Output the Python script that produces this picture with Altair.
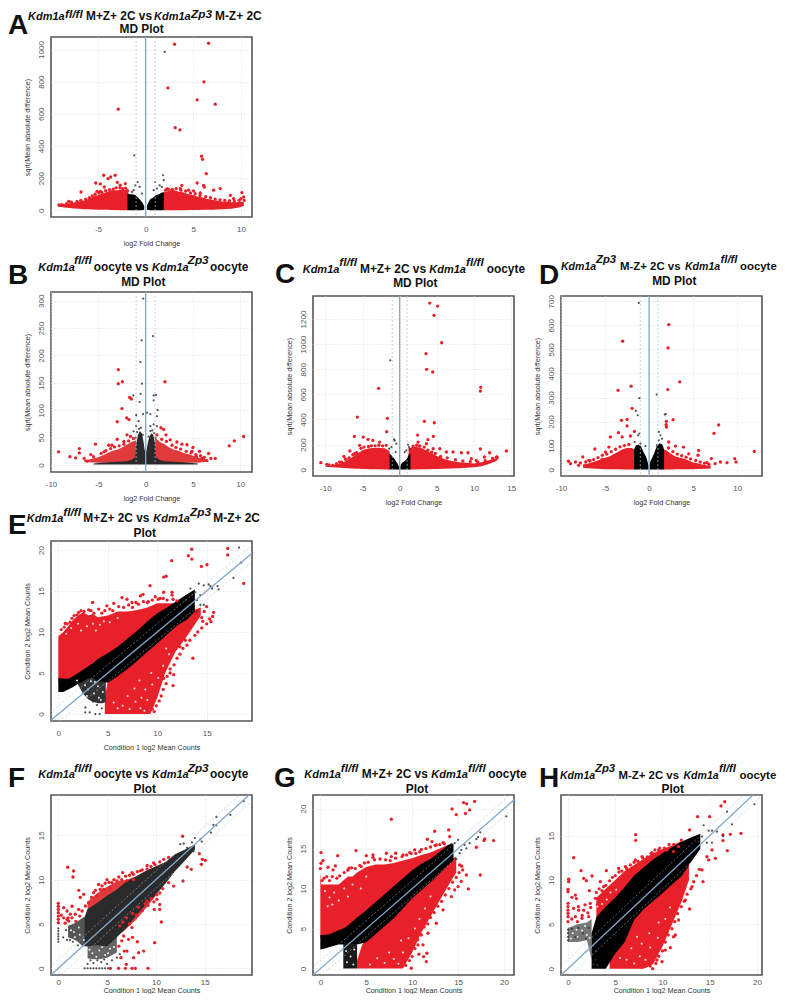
import altair as alt

FONT = "Liberation Sans"
RED = "#e8202a"
BLUE = "#7fa8cc"
LBLUE = "#9ec5e0"
ONE = alt.Data(values=[{"a": 1}])

# ---------- Panel A ----------
A_RED = [(3.04,1033),(6.6,1039),(6.12,799),(2.34,761),(5.4,687),(7.3,660),(-2.87,629),(3.1,514),(3.6,500),(5.87,336),(5.98,317),(6.36,228),(5.4,170),(-4.4,218),(-3.2,218),(-3.67,207),(-3.95,197),(-5.24,170),(-4.75,164),(-2.97,174),(-6.78,114),(-4.33,145),(-5.1,118),(-4.75,118),(-2.13,166),(-2.66,156),(6.08,155),(6.15,145),(7.83,135),(7.13,125),(5.73,108),(5.03,120),(4.5,125),(3.8,155),(3.64,135),(10.1,110),(10.28,83),(10.35,62),(10.0,73),(9.23,73),(8.9,93),(-8.08,56),(-9.1,33),(-8.6,31),(2.24,135),(2.76,125),
         (-8.8,35),(-8.3,42),(-7.8,50),(-7.2,55),(-6.8,62),(-6.3,70),(-5.9,78),(-5.6,90),(-5.3,100),(-4.9,108),(-4.6,112),(-4.2,122),(-3.8,128),(-3.4,132),(-3.1,140),(-2.7,140),(-2.4,135),(-2.1,137),(-1.9,122),(2.1,125),(2.4,130),(2.8,130),(3.2,135),(3.7,125),(4.2,120),(4.7,108),(5.2,103),(5.7,92),(6.3,85),(6.8,78),(7.3,70),(7.8,65),(8.3,62),(8.8,60),(9.3,58),(9.8,62)]
A_GRAY = [(2.0,985),(-1.19,342),(1.82,218),(-.84,176),(1.0,176),(1.9,187),(1.47,155),(-1.08,155),(-.63,145),(-1.26,125),(.84,125),(1.19,135),(1.71,145),(-1.43,114),(-.38,104)]
A_RED_L = [(-9.2,24,32),(-8.5,18,36),(-8,14,44),(-7.5,11,48),(-7,9,55),(-6.5,7,60),(-6,6,72),(-5.5,5,85),(-5,4,95),(-4.5,3,105),(-4,3,115),(-3.5,2,125),(-3,2,125),(-2.5,1,130),(-2,1,125),(-1.8,1,110)]
A_RED_R = [(1.8,1,110),(2,1,115),(2.5,1,120),(3,1,125),(3.5,1,115),(4,1,110),(4.5,2,100),(5,2,95),(5.5,2,85),(6,3,80),(6.5,3,70),(7,4,65),(7.5,5,60),(8,6,55),(8.5,8,55),(9,10,50),(9.5,14,50),(10,20,55),(10.3,26,50)]
A_BLK_L = [(-1.9,2,105),(-1.7,1,100),(-1.4,1,100),(-1.1,1,95),(-.8,1,80),(-.5,1,60),(-.3,2,45),(-.15,3,25)]
A_BLK_R = [(.15,3,30),(.3,2,50),(.5,1,70),(.8,1,80),(1.1,1,95),(1.4,1,100),(1.7,1,110),(1.9,2,110)]

# ---------- Panel B ----------
B_RED = [(-2.89,174),(-2.89,148.5),(-2.46,152),(2.04,152),(-1.69,123.5),(-1.51,120.5),(-2.5,103),(-2.0,86),(-1.76,83),(-3.0,79),(-3,47),(-5.3,38),(-7,30),(-7,22),(-9.2,24),(-8,15),(-7.4,13),(-6.5,12),(-6.2,7),(-5.8,19),(-4.4,24),(-3.9,36),(-3.56,36),(-2.3,43),(-1.97,55),(-1.6,52),(1.62,68),(1.9,65),(2.15,55),(2.6,46),(3.3,42),(3.84,38),(4.37,37),(5,32),(4.9,25),(5.7,25),(5.35,16),(6.65,21),(10.35,52),(9.37,44),(8.84,35),(7.36,12),(6.9,12),(6.48,8),(5.95,12),
         (-5.5,15),(-4.7,21),(-4.2,26),(-3.7,30),(-3.3,33),(-2.8,35),(-2.3,38),(-1.8,44),(-1.3,48),(1.2,55),(1.7,47),(2.2,43),(2.8,36),(3.2,32),(3.7,29),(4.3,25),(4.8,22),(5.3,19),(5.8,17),(6.2,14)]
B_GRAY = [(-.25,304),(.77,235.5),(-.42,227.6),(-.56,188),(-.39,148.5),(-.53,130),(-1.3,127),(.85,127),(1.09,128),(.85,118),(-.63,115),(1.27,100),(.14,95.6),(.5,93),(-1,91),(-.28,93),(1.2,89),(-.74,80),(-1,71),(.85,74),(-1.27,61.5),(1.2,71),(.5,71),(-.9,60),(-.7,66),(-.5,68),(.5,62),(.7,63),(.9,58),(-1.05,50),(1.05,50),(-.3,55),(.3,52)]
B_RED_L = [(-6.5,6,9),(-6,5,10),(-5,4,14),(-4.5,4,18),(-4,4,22),(-3.5,4,26),(-3,4,28),(-2.5,4,32),(-2,4,37),(-1.5,5,42),(-1,6,45)]
B_RED_R = [(1,6,50),(1.5,5,42),(2,4,38),(2.5,4,32),(3,4,28),(3.5,4,26),(4,4,22),(4.5,4,20),(5,4,17),(5.5,4,14),(6,5,12),(6.5,6,10)]
B_BLK = [(-5.5,1,2.5),(-4,1,5),(-3,1,6),(-2,1,7),(-1.5,1,9),(-1.1,1,14),(-1,1,38),(-.8,1,55),(-.6,1,62),(-.4,1,58),(-.25,1,45),(-.1,1,28),(0,1,20),(.1,1,28),(.25,1,42),(.4,1,52),(.6,1,58),(.8,1,55),(1,1,40),(1.1,1,14),(1.5,1,9),(2,1,7),(3,1,6),(4,1,5),(5.5,1,2.5)]

# ---------- Panel C ----------
C_RED = [(4.04,1327),(5.11,1303),(4.62,1229),(5.65,1011),(3.54,924),(3.63,799),(4.44,778),(-2.83,648),(10.9,656),(10.85,626),(-5.7,419),(-1.66,409),(-1.75,303),(3.32,385),(4.66,374),(-6.1,265),(2.42,276),(4.53,265),(2.47,220),(3.8,239),(-4.9,260),(-4.26,242),(-3.6,233),(-2.7,220),(-6.7,149),(-7.5,106),(-10.6,56),(-9.8,42),(-9,35),(-8.1,61),(-7.2,82),(-5.4,194),(-6.05,127),(-1.8,194),(10.85,165),(14.35,149),(12.1,135),(11.4,101),(13.1,101),(8.3,135),(9.2,135),(6.28,141),(7.17,141),(5.4,167),(4.5,167),(3.6,207),(2.7,188),(1.8,188),(9.64,88),(10.3,74),
         (-9.5,38),(-8.5,48),(-7.8,60),(-7.3,85),(-6.8,95),(-6.3,120),(-5.8,135),(-5.2,170),(-4.8,180),(-4.2,185),(-3.8,190),(-3.3,190),(-2.8,195),(-2.3,190),(2.3,195),(2.7,190),(3.3,180),(3.8,155),(4.3,140),(4.8,130),(5.5,105),(6.4,95),(7.5,80),(8.5,70),(9.5,65),(10.5,62),(11.5,72),(12.5,90),(13,100)]
C_GRAY = [(-1.26,871),(-.76,242),(-.67,231),(-.45,207),(-1.1,180),(-1.43,167),(1.12,199),(1.26,180),(.9,154),(-.54,141),(.67,141),(1.35,162)]
C_RED_L = [(-10,24,30),(-9,20,35),(-8,16,50),(-7,12,75),(-6.5,10,95),(-6,8,115),(-5.5,7,135),(-5,6,155),(-4.5,5,165),(-4,4,170),(-3,3,175),(-2,2,170),(-1.4,2,150)]
C_RED_R = [(1.2,2,170),(2,2,185),(3,3,170),(4,4,140),(4.5,5,125),(5,6,110),(6,8,85),(7,10,70),(8,12,60),(9,15,55),(10,20,50),(11,28,60),(12,45,75),(13,70,90),(13.3,90,100)]
C_BLK_L = [(-1.4,2,150),(-1.3,2,125),(-1,2,110),(-.7,2,85),(-.4,2,60),(-.2,2,40),(-.08,2,20)]
C_BLK_R = [(.08,2,25),(.2,2,45),(.4,2,60),(.7,2,70),(1,2,90),(1.25,2,125),(1.45,2,130)]

# ---------- Panel D ----------
D_RED = [(2.23,603),(2.15,506),(-3,534),(3.48,365),(-2.04,347),(-3.52,330),(2.12,333),(-1.93,255),(-3.14,205),(-2.5,209),(2.72,208),(1.97,201),(1.93,187),(1.97,177),(7.9,186),(7.37,151),(-2.5,182),(-1.66,159),(-3.48,154),(-4.39,136),(-3.06,136),(-2.12,140),(-6.16,86),(-4.57,94),(-4.95,73),(11.95,76),(9.72,46),(9.87,32),(7.07,46),(5.63,80),(5.56,60),(3.9,94),(2.99,98),(2.23,115),(4.5,66),(-9.15,35),(-8.92,25),(-8.36,32),(-7.52,53),(-8,18),(-6.84,39),(8.85,29),(8.1,32),(7.5,25),(6.58,29),(-5.33,43),
         (-7.8,28),(-7.2,32),(-6.7,36),(-6.3,42),(-5.8,50),(-5.3,60),(-4.8,65),(-4.3,75),(-3.8,85),(-3.3,95),(-2.8,100),(-2.3,105),(2.2,90),(2.7,75),(3.2,65),(3.7,58),(4.2,52),(4.7,45),(5.3,38),(5.8,32),(6.3,27),(6.8,22)]
D_GRAY = [(-1.17,693),(.87,312),(-1.1,297),(1.9,231),(1.78,229),(-1.5,244),(-1.29,226),(-1.1,150),(-1.25,143),(1.1,157),(1.29,143),(1.47,129),(-1.63,115),(1.1,122),(.9,101),(-.98,108),(-.42,98)]
D_RED_L = [(-7.5,8,22),(-7,6,25),(-6.5,5,30),(-6,4,36),(-5.5,3,42),(-5,2,50),(-4.5,2,55),(-4,2,65),(-3.5,2,75),(-3,1,85),(-2.5,1,90),(-2,1,90),(-1.7,1,85)]
D_RED_R = [(1.6,1,85),(2,1,80),(2.5,1,65),(3,2,55),(3.5,2,50),(4,2,45),(4.5,2,38),(5,2,30),(5.5,3,27),(6,3,22),(6.5,4,18),(7,5,14)]
D_BLK_L = [(-1.7,1,85),(-1.5,1,100),(-1.2,1,105),(-.9,1,95),(-.6,1,70),(-.35,1,55),(-.15,1,30),(-.05,1,15)]
D_BLK_R = [(.05,1,15),(.15,1,35),(.35,1,50),(.6,1,70),(.9,1,100),(1.2,1,110),(1.5,1,105),(1.7,1,85)]

# ---------- Panel E ----------
E_RED = [(18.74,15.93),(17.12,20.2),(17.12,19.4),(13.48,20.1),(13.14,19.3),(13.5,18.9),(15.03,18.2),(14.46,18),(11.46,18.7),(10.9,16.8),(10.65,16.7),(9.27,15.65),(3.47,13.6),(8.56,14.6),(8.3,14.4),(6.44,14.2),(6.94,14),(7.45,13.6),(7.85,13.6),(5.6,13.5),(4.9,13.2),(2.3,12.6),(2.06,12.4),(3.07,12.7),(4.08,12.8),(.7,11.05),(1.38,11.67),(15.7,12.4),(15.6,11.9),(15.43,11.26),(14.5,11.75),(14.6,11.3),(15,13.1),(14.76,12.5),(13.6,6.8),(11.6,3.46),(11.3,5),(11.66,4.8),(10.65,4.35),(11.15,6.6),(12.3,8.2),(12.84,9),(10.65,14.85),(11.5,14.85),(11.5,14.5),(10.3,14.1),(9.8,14.3),(9.1,13.7),(8.96,1.5),(10,2.7),(9.47,1.1),(9.13,2.7),(10.3,6.4),
         (.3,10.3),(.6,10.6),(.9,11),(1.2,11.2),(1.6,12),(1.9,12.1),(2.6,12.5),(2.8,12),(3.3,12.6),(3.6,12.3),(4.4,12.3),(4.7,12.6),(5.2,12.8),(5.5,12.6),(6.1,13.1),(6.6,13),(7.1,13.3),(7.5,13),(8.1,13.4),(8.6,13.7),(9,13.6),(9.5,13.9),(10.1,14),(10.6,14.1),(11,13.9),(11.6,14),(12,13.8),
         (9.7,.3),(9.9,1),(10.2,1.6),(10.4,2.2),(10.6,3),(10.9,3.7),(11,4.6),(11.3,5.5),(11.7,6),(12,6.8),(12.3,7.3),(12.6,8),(13,8.4),(13.3,9),(13.8,9.6),(14.1,10),(14.5,10.5),(15,11),(15.3,11.6),(9.5,.6),(8.9,.2)]
E_GRAY = [(18.27,20.3),(18.47,18.45),(17.7,16.6),(16.1,15.6),(15.37,15.6),(15.2,15.8),(15.54,15.3),(16.2,15.2),(14.2,15.9),(14.7,15.7),(13.35,15.3),(13.85,14.85),(14.36,14.5),(14,13.9),(14.7,13.3),(12.84,13.9),(13.5,14.5),(14.36,13.3),(14,12.5),(2.73,.2),(3.17,.2),(3.74,0),(4.18,0),(4.4,.7),(2.73,.8),(3.5,1.5),(3.9,1.1)]
E_HOLE = [(6.5,1),(7.2,.6),(7.8,1.5),(8.3,.7),(8.7,.4),(8.4,2),(9,1.7),(7,2.2),(6,.7),(5.6,1.4),(8.8,3),(9.5,3.6),(10.1,4.4),(7.7,3.1),(10.6,5.9),(11.2,7.3),(9.4,5),(8.2,4.1),(10.9,8),(2,11),(2.9,10.7),(3.5,11),(4.2,10.9),(4.6,11.3),(2.3,10.2),(.8,9.8),(3.8,10.2),(5.2,11.2),(1.3,10.5),(6,11.7),(3,3),(3.6,2.5),(4.1,2),(3.3,4),(4,3.4),(2.7,3.5),(4.5,2.7),(3.7,3.9),(4.3,1.7),(2.9,2.2),(1.9,4.1)]
E_RED_U = [(0,3.8,9.5),(.5,3.8,10),(1,3.8,10.7),(1.5,4,11.5),(2,4.4,12),(2.5,4.8,12.4),(3,5,12),(3.5,5.5,12.2),(4,6,11.8),(5,6.7,12),(6,7.5,12.5),(7,8.5,12.5),(8,9.5,12.7),(9,10.5,13),(10,11.5,13.5),(11,12.2,13.5),(12,12.8,13.5),(12.8,13.2,13.6)]
E_RED_D = [(4.7,0,2),(5,0,4),(5.5,0,5),(6,0,6),(7,0,7),(8,0,8),(9.3,0,9.2),(10,2,10),(10.8,5,10.7),(11.8,7.5,11.5),(13.3,10,12.5),(14.4,12,13)]
E_SPARSE = [(1.8,4,4.4),(2.5,2.5,5.2),(3,1.8,5.5),(3.5,1.5,6),(4,1.3,6.5),(4.5,1.3,6.7),(4.8,1.5,7)]
E_BLK = [(0,2.7,4.4),(.5,2.7,4.3),(1,3,4.3),(1.5,3.3,4.6),(2,3.7,5),(2.5,4,5.4),(3,4.3,5.8),(3.5,4.4,6.2),(4,4,6.7),(5,3.8,7.4),(6,4.6,8.2),(7,5.5,9.2),(8,6.5,10.2),(9,7.6,11.3),(10,8.6,12.3),(11,9.7,13),(12,10.8,13.8),(13,11.5,14.6),(13.8,12.5,15.2)]

# ---------- Panel F ----------
F_RED = [(.96,11.4),(1.57,10.98),(1.5,10.3),(2.1,8.8),(2.6,8.35),(2.25,8),(3.1,7.4),(1.4,7),(0,7.33),(0,7),(0,6.65),(0,6.28),(0,5.9),(0,5.53),(0,5.15),(.55,6.84),(.89,6.47),(1.23,6.1),(.55,5.7),(.89,5.5),(1.4,5.7),(1.74,6.1),(2.08,6.65),(1.06,5.34),(2.43,6.47),(2.77,7.03),(4.13,9.47),(4.48,9.3),(4.99,10),(4.65,8.9),(5.33,9.1),(3.62,8.53),(3.96,8.16),(5.5,9.66),(6,9.85),(6.6,10.8),(7.55,10.8),(7.04,9.9),(7.72,10),(8.4,11),(9.09,11.2),(9.77,11.9),(10.8,12.3),(11.3,12.5),(12.74,14.9),(14.66,11.73),(14.76,12.3),(15.07,12.18),(14.45,12.93),(13.2,11.43),(13.63,11.17),(12.78,9.85),(11.3,9.66),(11.82,9.28),(10.56,5.23),(9.87,2.9),(10.39,7.2),(10.39,6.65),(9.84,6.65),(10.1,7.78),(9.09,7.6),(7.55,4.6),(6.7,3.65),(7.2,3.27),(6.76,1.95),(7.04,1.95),(7.72,1.2),(8.75,1.95),(8.23,1.77),(6.42,1.2),(6.97,.45),(9.19,0),(7.89,0),(7.55,0),(6.87,0),(6.18,0),(5.33,0),
         (3.4,8),(3.8,8.8),(4.3,8.9),(4.8,9.6),(5.2,9.7),(5.7,10),(6.2,10.3),(6.5,10),(6.9,10.4),(7.3,10.5),(7.7,10.6),(8.1,10.9),(8.6,11.1),(9.1,11.6),(9.5,11.5),(9.9,11.7),(10.4,12),(1,5.7),(1.8,5.3),(2.2,5.9),(.3,6),(.7,5.1),
         (6.3,4.8),(6.6,5.2),(7,5.7),(7.3,5),(7.6,6.2),(8,6),(8.2,6.9),(8.6,6.5),(8.9,7.3),(9.2,7.1),(9.5,7.9),(9.8,7.5),(10.1,8.3),(10.4,8.5),(10.7,9),(6.5,3.1),(7.6,3.5),(8.1,3),(6.2,2.5)]
F_GRAY = [(19,18.87),(17.63,17.3),(16.2,17.07),(15.9,16.17),(16.2,16.13),(15.65,15.3),(14.7,14.3),(14,14.7),(14.55,14.55),(13.7,14.2),(13.87,13.2),(13,12.86),(13.19,13.6),(12.5,14),(12.85,14.06),(0,3),(0,3.3),(0,3.6),(0,3.9),(0,4.2),(0,4.5),(2.7,0),(3,0),(3.3,0),(3.6,0),(3.9,0),(4.2,0),(4.5,0),(4.8,0),(5.1,0),
          (3,.5),(3.6,.6),(4.4,.7),(5,.5),(5.5,.9),(3.3,.9),(4,.9),(4.7,1),(6,1.2),(6.3,1.6),(.5,3.5),(.8,4.3),(.9,3.2),(1.2,3.2),(1.5,3),(2,2.6)]
F_HOLE = [(3.5,1.7),(4.2,2),(4.8,1.5),(5.3,2.2),(3.2,2.1),(5.7,2.4),(1.6,4.1),(2.2,3.8),(1.3,4.3),(3.9,1.3),(4.5,2.4),(5.1,1.7),(2.6,3.2),(2.1,4.6),(1.7,3.5)]
F_RED_U = [(3,6.2,7.5),(4,7,8.5),(5,7.6,9.2),(6,8.3,9.8),(7,9,10),(8,9.7,10.4),(9,10.2,11),(10,10.8,11.5),(11,11.4,12)]
F_RED_D = [(6.5,4,5.5),(7,4.5,6),(8,5.5,7),(9,6.8,8),(10,8.2,9)]
F_SPARSE_L = [(1,3.5,4.8),(1.5,3.3,5),(2,3,5.3),(2.5,2.5,5.7),(3,2.5,6)]
F_SPARSE_B = [(3,1.1,2.7),(4,1,2.7),(5,1.2,3),(6,1.8,3.8)]
F_BLK = [(2.7,2.5,5.8),(3,2.5,6.7),(4,2.6,7.4),(5,2.5,8.2),(6,3.5,8.9),(7,4.6,9.8),(8,6,10.4),(9,7.2,11),(10,8.3,11.5),(11,9.6,12),(12,11,12.9),(13,12.2,13.4),(14,13.4,14)]

# ---------- Panel G ----------
G_RED = [(7.73,18.67),(16.8,20.9),(15.6,20.75),(15.93,20.6),(14.34,19.96),(16.26,19.83),(15.8,19.4),(14.8,19.25),(12.45,17.17),(13.97,17.33),(14.08,16.5),(17.9,16.2),(17.82,16),(18.87,16),(16.99,15.17),(17.42,11.7),(16.12,9.96),(15.35,10.9),(15.9,11.7),(15.5,12.33),(15.17,12.96),(11.65,16.17),(12.16,15.87),(12.63,15.46),(13.36,15.75),(.07,14.5),(.07,13.17),(.29,13.5),(.83,12.67),(1.89,14.12),(1.63,12.83),(1.38,12.33),(3.88,14.75),(3.12,12.54),(5,14.12),(5.73,14.2),(5.73,13.9),(4.46,12.75),(7.19,14.42),(8.2,14.42),(7.73,14),(9,14.2),(9.73,14.5),(10.27,14.83),(10.82,14.62),(11.6,1.92),(11.25,1.5),(10.74,1.8),(11.54,.88),(9.9,.04),(10.63,2.96),(11.18,2.96),(11.72,4.42),(12.63,5.67),(13.36,7.33),(14.27,9),(15,10.25),(14.63,9.83),
         (0,12.5),(.2,11),(.4,11.3),(.7,11.5),(1,11),(1.3,11.5),(1.8,11.3),(2.1,11.6),(2.6,12),(3,12.3),(3.4,12.6),(3.8,12.5),(4.3,12.9),(4.8,13.2),(5.2,13.3),(5.9,13.6),(6.5,13.7),(7.1,13.6),(7.6,13.5),(8.2,13.8),(8.9,14),(9.4,14.2),(9.9,14.4),(10.4,14.4),(11,14.9),(11.5,15),(12,15.2),(12.5,15.4),(13,15.5),(13.5,15.6),
         (9.3,.4),(9.7,1),(10,1.5),(10.3,2.5),(10.6,3.6),(11,4.2),(11.3,5.2),(11.7,5.6),(12,6.4),(12.4,7),(12.8,7.8),(13.2,8.4),(13.6,9.2),(14,10),(14.4,10.8),(14.8,11.4),(15.1,12),(15.4,12.8)]
G_GRAY = [(20.25,19.04),(17.42,17.04),(17.17,16.42),(16.99,16.17),(16.26,15.67),(15,16.08),(15.9,15.04),(15.35,14.83),(15.7,15.46),(14.63,15.67),(15.17,14.42),(14.27,15.58),(14.8,13.67)]
G_HOLE = [(7,.7),(8,1.2),(8.5,.6),(7.5,2),(6.2,1.3),(9,2),(8.8,3.5),(9.6,3.8),(10.3,5),(10.8,6.2),(11.4,7.5),(12,9),(5.4,.5),(1,8.9),(1.5,9.5),(2,8.5),(3,9),(.5,9.7),(2.6,10),(3.5,10.5),(4.4,10),(.8,7.8),(1.3,8),(5,11.5),(2.9,.8),(3.3,1.5),(3.6,.5),(2.8,2.2),(3.7,2.4)]
G_RED_U = [(0,3.8,12),(.1,3.8,10.5),(1,3.9,10.5),(1.5,4,10.5),(2,4.3,10.5),(2.5,4.6,11),(3,4.9,11.5),(3.5,5.4,11.5),(4,5.9,12),(5,6.8,12.7),(6,7.8,13),(7,8.8,13),(8,9.8,13.2),(9,10.8,13.5),(10,11.8,13.8),(11,12.6,14.2),(12,13.2,14.5),(13,14,15),(14,15,15.5)]
G_RED_D = [(4,0,1),(4.5,0,2.8),(5,0,4),(6,0,5),(7,0,6),(8,0,7),(9,0,8),(10,2,9.5),(11,4.5,10.5),(12,6.5,11.5),(13,8.5,12.5),(14,10.5,13.5),(14.8,12,14)]
G_TAIL = [(2.5,0,3.5),(3,0,4),(3.5,0,4),(4,0,4)]
G_BLK = [(0,2.4,4.2),(.5,2.5,4.2),(1,2.7,4.3),(2,3,4.8),(2.5,3,5),(3,3.3,5.4),(4,3,6.4),(5,3.3,7.3),(6,4.3,8.3),(7,5.3,9.3),(8,6.3,10.3),(9,7.5,11.3),(10,8.8,12.3),(11,9.8,13.1),(12,10.8,13.7),(13,11.9,14.6),(14,13,15.5),(14.5,13.5,15.6)]

# ---------- Panel H ----------
H_RED = [(16.58,18.83),(16.19,18.35),(13.72,17.14),(14.99,17.14),(7.16,15.11),(7.16,14.47),(.6,12.52),(12.87,15.64),(17.18,15.15),(18.3,15.26),(16.4,15.08),(16.4,14.44),(16.86,13.3),(15.24,13.38),(15.6,12.44),(14.7,12.63),(14.89,12.26),(14.18,11.13),(14.29,9.81),(12.87,6.73),(10.83,2.37),(9.42,.98),(9.95,.79),(8.96,0),(13.12,9.25),(12.42,7.74),(11.36,3.8),(11.18,3.6),(10.3,2.1),(11.7,5.49),(1.38,11.05),(1.66,10.19),(1.94,9.92),(2.54,10.45),(4.06,11.05),(2.26,8.8),(.07,10.08),(.07,9.81),(0,8.95),(0,8.68),(.78,8.3),(.42,8.05),(0,7.37),(0,7),(0,6.6),(0,6.24),(0,5.86),(0,5.3),(.6,6.8),(1.13,6.6),(1.66,6.6),(2.36,7.37),(2.9,7.93),(.78,5.86),(1.48,5.68),(2.19,5.86),(3.42,9.81),(3.77,9.25),(5.36,11.3),(6.07,11.5),(7.13,12.26),(7.83,12.63),(8.89,13.08),(9.6,13.38),(10.48,13.38),(11.7,13.76),(11.18,13.2),
         (3,8.6),(3.3,9),(3.6,8.8),(4,9.4),(4.4,9.9),(4.7,10.3),(5,10.5),(5.4,10.9),(5.7,11),(6.2,11.3),(6.6,11.7),(7,12),(7.4,12.1),(7.9,12.5),(8.4,12.6),(8.8,13),(9.2,13.4),(9.7,13.6),(10.2,13.6),(10.7,14),(11.2,14),(12,14.5),(1.1,7),(1.8,7.2),(.4,5.6),(1,5.3),(1.5,6),(2.4,6.9),(2.1,6.3),(.9,7.9),(3.1,7.2),
         (9.3,.6),(9.6,1.4),(10,2),(10.3,3),(10.6,3.8),(11,4.5),(11.3,5.3),(11.6,6.2),(12,7),(12.3,7.6),(12.6,8.4),(13,9),(13.3,9.8),(13.6,10.5),(13.9,11.2),(8.7,.3),(8.2,.3),(7.7,.2)]
H_GRAY = [(19.72,18.53),(16.83,17.7),(17.35,16.28),(14.36,16.17),(14.89,15.56),(15.24,15.56),(15.77,15.45),(16.4,14.96),(15.24,14.2),(14.7,14.2),(14.18,14.9),(13.83,14.32),(0,3.2),(0,3.6),(0,4),(0,4.4),(.4,4.5),(.8,3.6),(1.1,4.6),(1.6,4),(1.9,3.4),(2.2,4.6),(2.7,.5),(3,2),(2.6,2.6),(2.9,1),(3.1,.4)]
H_HOLE = [(6.2,1),(7,.6),(7.6,1.4),(8.2,1),(6.7,2.3),(7.8,2.8),(8.7,2.4),(8.6,4),(9.5,3.5),(9.6,5.2),(10.3,5.6),(10.8,6.9),(5.5,1.2),(7.3,3.6),(4.1,7.8),(3.6,7.3),(5.1,8.9),(4.5,8.6),(3.1,7),(.5,4),(1,3.6),(1.5,4.3),(2,3.8),(.9,4.4),(1.8,4.8),(.3,3.4),(2.3,3.5)]
H_RED_U = [(3,5,8),(4,6,9),(5,7,10),(6,8,11),(7,9.5,11.7),(8,10.4,12.4),(9,11.3,13),(10,12,13.5),(11,12.8,13.9),(12,13.8,14.4)]
H_RED_D = [(4.4,0,1),(5,0,2.5),(6,0,4),(7,0,6),(8,0,7),(9,.5,8),(10,2.5,9),(11,5,10),(12,7.5,11),(12.8,10,12)]
H_SPARSE = [(0,3,4.6),(1,3,5),(2,3.2,5.2),(2.5,1,5.6)]
H_BLK = [(2.5,0,4),(3,0,5.8),(4,0,7),(5,1.7,8),(6,3,9.2),(7,5.5,10.5),(8,6.7,11.4),(9,7.6,12.3),(10,8.5,13),(11,9.5,13.7),(12,10.4,14.3),(13,12,14.8),(14,13.5,15.2)]

MD_LINES = [-1, 0, 1]
DIAG_ENDS = [-3, 25]
DIAG_OFFSETS = [-1, 0, 1]

MD_X = "log2 Fold Change"
MD_Y = "sqrt(Mean absolute difference)"
SC_X = "Condition 1 log2 Mean Counts"
SC_Y = "Condition 2 log2 Mean Counts"


def label(ox, oy, px, py, text, size=12, weight="bold", style="normal", align="left"):
    # py is the text's baseline on the page; "top" baseline keeps its layout box tight
    return alt.Chart(ONE).mark_text(
        font=FONT, fontSize=size, fontWeight=weight, fontStyle=style, align=align,
        baseline="top", color="#111",
    ).encode(x=alt.value(px - ox), y=alt.value(py - oy - round(0.79 * size)), text=alt.value(text))


def title_parts(ox, oy, y_main, y_sup, parts, line2, x2, y2, letter, lx, ly, k=1.0):
    out = []
    for kind, text, px in parts:
        if kind == "i":
            out.append(label(ox, oy, px, y_main, text, size=11 * k, style="italic"))
        elif kind == "s":
            out.append(label(ox, oy, px, y_sup, text, size=11.8 * k, style="italic"))
        else:
            out.append(label(ox, oy, px, y_main, text, size=11.9 * k))
    out.append(label(ox, oy, x2, y2, line2, size=11.9, align="center"))
    out.append(label(ox, oy, lx, ly, letter, size=28))
    return out


def spacer(w, h):
    return alt.Chart(ONE).mark_point(opacity=0, size=1).encode(
        x=alt.value(w / 2), y=alt.value(h / 2)).properties(width=w, height=h)


def head(frame, h, titles):
    """Blank strip of height h above a panel's frame, holding that panel's title and letter."""
    ox, oy = frame
    base = alt.Chart(ONE).mark_point(opacity=0, size=1).encode(x=alt.value(100), y=alt.value(h / 2))
    return alt.layer(base, *title_parts(ox, oy - h, *titles)).properties(width=201, height=h)


def panel(xdom, ydom, xt, yt, xlab, ylab, envs, red, gray, holes, diag, dark, bottom=False):
    sx = alt.Scale(domain=xdom, nice=False, zero=False)
    sy = alt.Scale(domain=ydom, nice=False, zero=False)
    expr = "'' + datum.value"
    ax = alt.Axis(values=xt, title=xlab, grid=True, gridColor="#e0e0e0", gridDash=[1, 2], gridWidth=1,
                  domain=False, ticks=False, labelFont=FONT, labelFontSize=8, labelColor="#555",
                  labelPadding=3 if bottom else 8, labelExpr=expr, titleFont=FONT, titleFontSize=7.2, titleFontWeight="normal",
                  titleColor="#333", titlePadding=0 if bottom else 6, labelFlush=False, labelOverlap=False)
    ay = alt.Axis(values=yt, title=ylab, grid=True, gridColor="#e0e0e0", gridDash=[1, 2], gridWidth=1,
                  domain=False, ticks=False, labelFont=FONT, labelFontSize=8, labelColor="#555",
                  labelPadding=6, labelAngle=270, labelAlign="center", labelBaseline="bottom", labelExpr=expr,
                  titleFont=FONT, titleFontSize=7.2, titleFontWeight="normal", titleColor="#333", titlePadding=6,
                  labelFlush=False, labelOverlap=False)
    X = alt.X("x:Q", scale=sx, axis=ax)
    Y = alt.Y("y:Q", scale=sy, axis=ay)
    layers = []
    for rows, col in envs:
        d = alt.Data(values=[{"x": a, "y": b, "hi": c} for a, b, c in rows])
        layers.append(alt.Chart(d).mark_area(color=col, opacity=1).encode(x=X, y=Y, y2="hi:Q"))
    rd = alt.Data(values=[{"x": a, "y": b} for a, b in red])
    layers.append(alt.Chart(rd).mark_circle(color=RED, size=11, opacity=1).encode(x=X, y=Y))
    if holes:
        hd = alt.Data(values=[{"x": a, "y": b} for a, b in holes])
        layers.append(alt.Chart(hd).mark_circle(color="#ffffff", size=4, opacity=.9).encode(x=X, y=Y))
    gd = alt.Data(values=[{"x": a, "y": b} for a, b in gray])
    layers.append(alt.Chart(gd).mark_circle(color=dark, size=5, opacity=.85).encode(x=X, y=Y))
    if diag:
        for off in DIAG_OFFSETS:
            d = alt.Data(values=[{"x": DIAG_ENDS[0], "y": DIAG_ENDS[0] + off, "x2": DIAG_ENDS[1], "y2": DIAG_ENDS[1] + off}])
            mk = dict(color=BLUE, strokeWidth=1.3) if off == 0 else dict(color=LBLUE, strokeWidth=1, strokeDash=[2, 2], opacity=.55)
            layers.append(alt.Chart(d).mark_rule(clip=True, **mk).encode(x=X, y=Y, x2="x2:Q", y2="y2:Q"))
    else:
        for v in MD_LINES:
            d = alt.Data(values=[{"x": v}])
            mk = dict(color=BLUE, strokeWidth=1.3) if v == 0 else dict(color=LBLUE, strokeWidth=1, strokeDash=[2, 2], opacity=.7)
            layers.append(alt.Chart(d).mark_rule(**mk).encode(x=X))
    return alt.layer(*layers).properties(width=201, height=180,
                                         view=alt.ViewBackground(stroke="#555", strokeWidth=1.6))


pA = panel([-9.93, 11.16], [-41.7, 1078], [-5, 0, 5, 10], [0, 200, 400, 600, 800, 1000], MD_X, MD_Y,
           [(A_RED_L, RED), (A_RED_R, RED), (A_BLK_L, "#000"), (A_BLK_R, "#000")], A_RED, A_GRAY, None, False, "#333")
tA = (20, 17.5, [("i", "Kdm1a", 28), ("s", "fl/fl", 65), ("b", "M+Z+ 2C vs", 86), ("i", "Kdm1a", 154), ("s", "Zp3", 191), ("b", "M-Z+ 2C", 215)],
      "MD Plot", 141.7, 33, "A", 8, 34)
pB = panel([-10, 11.24], [-12.8, 315.9], [-10, -5, 0, 5, 10], [0, 50, 100, 150, 200, 250, 300], MD_X, MD_Y,
           [(B_RED_L, "#e03a3c"), (B_RED_R, "#e03a3c"), (B_BLK, "#2a2a2a")], B_RED, B_GRAY, None, False, "#333")
tB = (271, 264.3, [("i", "Kdm1a", 38.3), ("s", "fl/fl", 74), ("b", "oocyte vs", 93.7), ("i", "Kdm1a", 152), ("s", "Zp3", 187.7), ("b", "oocyte", 210)],
      "MD Plot", 143.3, 285.7, "B", 8, 284.3)
pC = panel([-11.66, 15.38], [-50, 1383], [-10, -5, 0, 5, 10, 15], [0, 200, 400, 600, 800, 1000, 1200], MD_X, MD_Y,
           [(C_RED_L, RED), (C_RED_R, RED), (C_BLK_L, "#000"), (C_BLK_R, "#000")], C_RED, C_GRAY, None, False, "#333")
tC = (273.3, 266, [("i", "Kdm1a", 302.7), ("s", "fl/fl", 339.3), ("b", "M+Z+ 2C vs", 360), ("i", "Kdm1a", 429.3), ("s", "fl/fl", 466), ("b", "oocyte", 486.7)],
      "MD Plot", 415.3, 287.3, "C", 275, 283.3)
pD = panel([-10, 12.82], [-26.3, 722], [-10, -5, 0, 5, 10], [0, 100, 200, 300, 400, 500, 600, 700], MD_X, MD_Y,
           [(D_RED_L, RED), (D_RED_R, RED), (D_BLK_L, "#000"), (D_BLK_R, "#000")], D_RED, D_GRAY, None, False, "#333")
tD = (270, 263.3, [("i", "Kdm1a", 561), ("s", "Zp3", 596), ("b", "M-Z+ 2C vs", 620), ("i", "Kdm1a", 685), ("s", "fl/fl", 720.5), ("b", "oocyte", 740)],
      "MD Plot", 674.3, 285, "D", 539, 284.3, 0.96)
pE = panel([-0.74, 19.58], [-0.85, 21.1], [0, 5, 10, 15], [0, 5, 10, 15, 20], SC_X, SC_Y,
           [(E_RED_U, RED), (E_RED_D, RED), (E_SPARSE, "#333"), (E_BLK, "#000")], E_RED, E_GRAY, E_HOLE, True, "#333")
tE = (522.3, 516, [("i", "Kdm1a", 26.7), ("s", "fl/fl", 63.3), ("b", "M+Z+ 2C vs", 83.3), ("i", "Kdm1a", 153.3), ("s", "Zp3", 190), ("b", "M-Z+ 2C", 213.3)],
      "Plot", 144.7, 537, "E", 8, 534.3)
pF = panel([-0.75, 19.85], [-0.75, 19.55], [0, 5, 10, 15], [0, 5, 10, 15], SC_X, SC_Y,
           [(F_RED_U, "#e03a3c"), (F_RED_D, "#e03a3c"), (F_SPARSE_L, "#555"), (F_SPARSE_B, "#666"), (F_BLK, "#2a2a2a")], F_RED, F_GRAY, F_HOLE, True, "#333", bottom=True)
tF = (778.3, 771.7, [("i", "Kdm1a", 38.3), ("s", "fl/fl", 74), ("b", "oocyte vs", 93.7), ("i", "Kdm1a", 152), ("s", "Zp3", 187.7), ("b", "oocyte", 210)],
      "Plot", 144.7, 792.7, "F", 8, 787.3)
pG = panel([-0.8, 21.09], [-0.8, 21.7], [0, 5, 10, 15, 20], [0, 5, 10, 15, 20], SC_X, SC_Y,
           [(G_RED_U, RED), (G_RED_D, RED), (G_TAIL, "#1a1a1a"), (G_BLK, "#000")], G_RED, G_GRAY, G_HOLE, True, "#333", bottom=True)
tG = (778.3, 771.7, [("i", "Kdm1a", 304.3), ("s", "fl/fl", 340.7), ("b", "M+Z+ 2C vs", 361.7), ("i", "Kdm1a", 431.3), ("s", "fl/fl", 468), ("b", "oocyte", 488.3)],
      "Plot", 417, 792.7, "G", 274, 787.3)
pH = panel([-0.74, 20.53], [-0.71, 19.58], [0, 5, 10, 15, 20], [0, 5, 10, 15], SC_X, SC_Y,
           [(H_RED_U, RED), (H_RED_D, RED), (H_SPARSE, "#777"), (H_BLK, "#000")], H_RED, H_GRAY, H_HOLE, True, "#333", bottom=True)
tH = (779.3, 772.3, [("i", "Kdm1a", 560), ("s", "Zp3", 595), ("b", "M-Z+ 2C vs", 618.5), ("i", "Kdm1a", 683.5), ("s", "fl/fl", 719), ("b", "oocyte", 739.5)],
      "Plot", 672.7, 793.3, "H", 539, 787.3, 0.96)

col1 = alt.vconcat(head((51, 37), 24, tA), pA, head((51, 292), 75, tB), pB, head((51, 541), 69, tE), pE,
                   head((51, 795), 74, tF), pF, spacing=0, bounds="flush")
col2 = alt.vconcat(head((313, 296), 283, tC), pC, head((313, 795), 319, tG), pG, spacing=0, bounds="flush")
col3 = alt.vconcat(head((561, 296), 283, tD), pD, head((561, 795), 319, tH), pH, spacing=0, bounds="flush")

chart = alt.hconcat(col1, spacer(262, 1), col2, spacer(248, 1), col3, spacing=0, bounds="flush").properties(padding=0).configure_view(strokeWidth=0)

chart.save("out.html", embed_options={"renderer": "svg", "actions": False})
